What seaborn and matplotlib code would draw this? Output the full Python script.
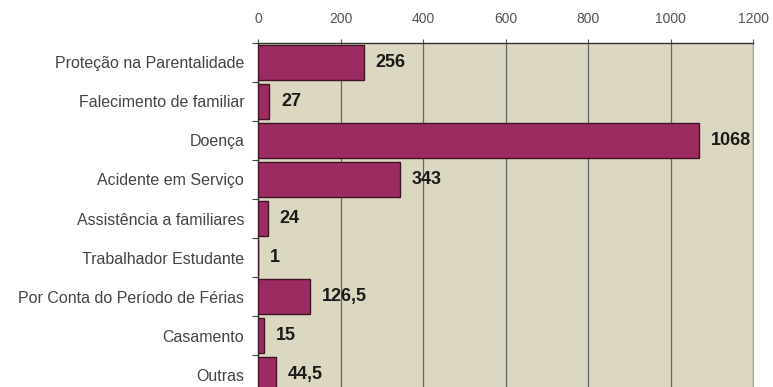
import numpy as np
import pandas as pd
import matplotlib
matplotlib.use("Agg")
import matplotlib.pyplot as plt
import seaborn as sns

# Dados: dias de ausência por motivo
categorias = [
    "Proteção na Parentalidade",
    "Falecimento de familiar",
    "Doença",
    "Acidente em Serviço",
    "Assistência a familiares",
    "Trabalhador Estudante",
    "Por Conta do Período de Férias",
    "Casamento",
    "Outras",
]
dias = [256, 27, 1068, 343, 24, 1, 126.5, 15, 44.5]
xticks = [0, 200, 400, 600, 800, 1000, 1200]

df = pd.DataFrame({"motivo": categorias, "dias": dias})

sns.set_style("white")
plt.rcParams["font.family"] = ["Liberation Sans", "DejaVu Sans"]

fig = plt.figure(figsize=(7.73, 3.87), dpi=100)
ax = fig.add_axes([0.3338, -0.0181, 0.6404, 0.907])
ax.set_facecolor("#dcd7c1")

sns.barplot(data=df, x="dias", y="motivo", orient="h", color="#9b2b60",
            edgecolor="#3e1426", linewidth=1.0, width=0.92, saturation=1,
            ax=ax, zorder=3)

# Rótulos de valor (vírgula decimal)
rotulos = [f"{v:g}".replace(".", ",") for v in dias]
ax.bar_label(ax.containers[0], labels=rotulos, padding=8.5,
             fontsize=13, fontweight="bold", color="#1a1a1a")

# Eixo x no topo
ax.set_xlim(0, 1200)
ax.set_xticks(xticks)
ax.xaxis.tick_top()
ax.tick_params(axis="x", top=True, length=3, width=0.8, color="#555555",
               labelsize=10, labelcolor="#555555", pad=9)
ax.grid(axis="x", color="#666666", linewidth=0.9, zorder=1)
ax.set_axisbelow(True)

# Eixo y: marcas nos limites das categorias
ax.set_ylim(len(categorias) - 0.5, -0.5)
ax.set_yticks(np.arange(-0.5, len(categorias), 1), minor=True)
ax.tick_params(axis="y", which="major", length=0, labelsize=11.5,
               labelcolor="#444444", pad=10)
ax.tick_params(axis="y", which="minor", left=True, length=4, width=0.8,
               color="#444444")

ax.set_xlabel("")
ax.set_ylabel("")

for lado in ["top", "left"]:
    ax.spines[lado].set_color("#333333")
    ax.spines[lado].set_linewidth(1.0)
ax.spines["right"].set_color("#a8a8a8")
ax.spines["bottom"].set_visible(False)

fig.savefig("out.png", dpi=100)
